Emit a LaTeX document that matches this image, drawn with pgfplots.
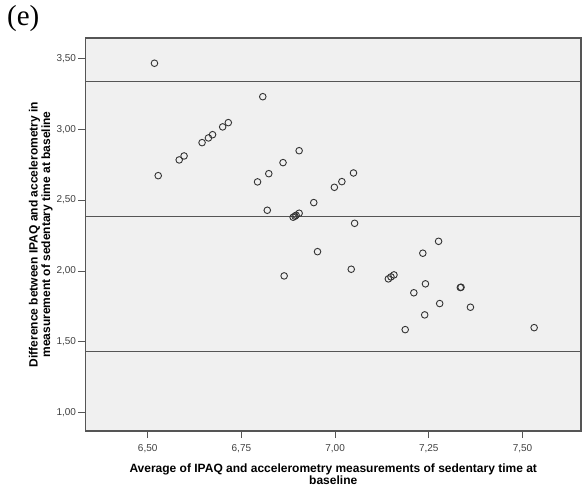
\documentclass[border=0pt]{standalone}
\usepackage{fontspec}
\setmainfont{Liberation Sans}
\newfontfamily\serif{Liberation Serif}
\usepackage{pgfplots}
\pgfplotsset{compat=1.18}

\definecolor{plotbg}{HTML}{F0F0F0}
\definecolor{frame}{HTML}{555555}
\definecolor{mark}{HTML}{333333}

\begin{document}
\begin{tikzpicture}[x=1pt,y=1pt]
\path[use as bounding box] (0,0) rectangle (582,493);
\node[anchor=north west,inner sep=0pt,font=\serif\fontsize{29}{29}\selectfont] at (7,488) {(e)};
\begin{axis}[
  at={(85.5pt,62pt)}, anchor=south west,
  scale only axis, width=495.5pt, height=393pt,
  xmin=6.334, xmax=7.656, ymin=0.871, ymax=3.643,
  axis background/.style={fill=plotbg},
  axis line style={frame, line width=1.2pt},
  xtick={6.5,6.75,7,7.25,7.5},
  ytick={1,1.5,2,2.5,3,3.5},
  tick align=outside, tick pos=left,
  major tick length=7pt,
  tick style={frame, line width=0.8pt},
  /pgf/number format/assume math mode=true,
  /pgf/number format/.cd, fixed, fixed zerofill, precision=2, use comma,
  /pgfplots/.cd,
  tick label style={font=\fontsize{10}{10}\selectfont, text=black!75},
  xticklabel style={yshift=-3pt},
  yticklabel style={xshift=1pt},
  xlabel={Average of IPAQ and accelerometry measurements of sedentary time at\\baseline},
  ylabel={Difference between IPAQ and accelerometry in\\measurement of sedentary time at baseline},
  label style={font=\bfseries\fontsize{12}{12.5}\selectfont, align=center},
  xlabel style={yshift=-4pt},
  ylabel style={yshift=-3pt},
]
\addplot[frame, line width=1.1pt] coordinates {(6.334,3.335) (7.656,3.335)};
\addplot[frame, line width=1.1pt] coordinates {(6.334,2.382) (7.656,2.382)};
\addplot[frame, line width=1.1pt] coordinates {(6.334,1.429) (7.656,1.429)};
\addplot[only marks, mark=o, mark size=3.3pt, mark options={draw=mark, line width=0.9pt}] coordinates {
(6.518,3.465) (6.528,2.672) (6.584,2.783) (6.597,2.811) (6.645,2.905)
(6.662,2.938) (6.673,2.961) (6.700,3.016) (6.715,3.046) (6.807,3.229)
(6.793,2.628) (6.823,2.686) (6.861,2.764) (6.819,2.428) (6.864,1.965)
(6.888,2.379) (6.893,2.386) (6.896,2.393) (6.904,2.407) (6.904,2.848)
(6.943,2.482) (6.953,2.136) (6.998,2.590) (7.018,2.630) (7.049,2.691)
(7.052,2.336) (7.043,2.012) (7.142,1.944) (7.149,1.958) (7.157,1.972)
(7.187,1.586) (7.210,1.846) (7.234,2.125) (7.239,1.690) (7.241,1.909)
(7.276,2.209) (7.279,1.770) (7.334,1.883) (7.336,1.885) (7.361,1.744)
(7.531,1.600)
};
\end{axis}
\end{tikzpicture}
\end{document}
